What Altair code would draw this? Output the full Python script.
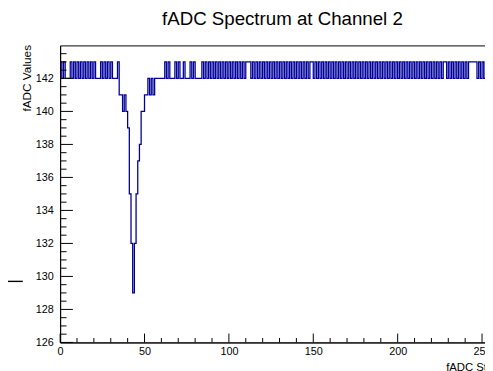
import altair as alt
import pandas as pd

# fADC value per step (bins 0..255)
adc_values = [
    143, 142, 143, 142, 142, 142, 143, 142, 143, 142, 143, 142, 143, 142, 143, 142,
    143, 142, 143, 142, 143, 142, 142, 142, 143, 142, 143, 142, 143, 142, 143, 142,
    142, 142, 143, 141, 141, 140, 141, 140, 139, 135, 132, 129, 132, 135, 137, 138,
    140, 140, 141, 141, 142, 141, 142, 141, 142, 142, 142, 142, 142, 142, 143, 142,
    143, 142, 142, 142, 143, 142, 143, 142, 142, 143, 142, 142, 142, 143, 142, 143,
    142, 142, 142, 142, 143, 142, 143, 142, 143, 142, 143, 142, 143, 142, 143, 142,
    143, 142, 143, 142, 143, 142, 143, 142, 143, 142, 143, 142, 143, 142, 143, 143,
    143, 142, 143, 142, 143, 142, 143, 142, 143, 142, 143, 142, 143, 142, 143, 142,
    143, 142, 143, 142, 143, 142, 143, 142, 143, 142, 143, 142, 143, 142, 143, 142,
    143, 142, 143, 142, 143, 143, 142, 143, 142, 143, 142, 143, 142, 143, 142, 143,
    142, 143, 142, 143, 142, 143, 142, 143, 142, 143, 142, 143, 142, 143, 142, 143,
    142, 143, 142, 143, 142, 143, 142, 143, 142, 143, 142, 143, 142, 143, 142, 143,
    142, 143, 142, 143, 142, 143, 142, 143, 142, 143, 142, 143, 142, 143, 142, 143,
    142, 143, 142, 143, 142, 143, 142, 143, 142, 143, 142, 143, 142, 143, 142, 143,
    142, 143, 142, 143, 143, 142, 143, 142, 143, 142, 143, 142, 143, 142, 143, 142,
    143, 142, 143, 143, 143, 143, 143, 142, 143, 142, 143, 142, 143, 142, 143, 142,
]

x_major = [0, 50, 100, 150, 200, 250]
x_minor = [10, 20, 30, 40, 60, 70, 80, 90, 110, 120, 130, 140, 160, 170, 180, 190,
           210, 220, 230, 240]
y_major = [126, 128, 130, 132, 134, 136, 138, 140, 142]
y_minor = [126.5, 127, 127.5, 128.5, 129, 129.5, 130.5, 131, 131.5, 132.5, 133, 133.5,
           134.5, 135, 135.5, 136.5, 137, 137.5, 138.5, 139, 139.5, 140.5, 141, 141.5,
           142.5, 143, 143.5]

# short black line segment seen at the far left (part of a neighbouring pad)
stub_start = [-31.0]
stub_end = [-22.1]
stub_level = [129.7]

steps = list(range(len(adc_values) + 1))
vals = adc_values + [adc_values[-1]]
df = pd.DataFrame({"step": steps, "value": vals})

W, H = 432, 302
FONT = "Liberation Sans"
xscale = alt.Scale(domain=[0, 251.75], nice=False, zero=False)
yscale = alt.Scale(domain=[126, 144], nice=False, zero=False)

x_axis = alt.Axis(
    values=x_major, ticks=False, tickSize=0, labelPadding=3, labelFlush=False,
    labelFontSize=11, labelFont=FONT, labelColor="black", grid=False,
    domainColor="black", domainWidth=1,
    title="fADC Steps", titleFont=FONT, titleFontSize=11.5, titleFontWeight="normal",
    titleColor="black", titleAlign="right", titleAnchor="end", titleX=452, titleY=28.5,
    titleBaseline="alphabetic")
y_axis = alt.Axis(
    values=y_major, ticks=False, tickSize=0, labelPadding=7,
    labelFontSize=11, labelFont=FONT, labelColor="black", grid=False,
    domainColor="black", domainWidth=1,
    title="fADC Values", titleFont=FONT, titleFontSize=12, titleFontWeight="normal",
    titleColor="black", titleAngle=270, titleAlign="right", titleAnchor="end",
    titleX=-30, titleY=-1, titleBaseline="alphabetic")

line = alt.Chart(df).mark_line(
    interpolate="step-after", color="#000099", strokeWidth=1.3
).encode(
    x=alt.X("step:Q", scale=xscale, axis=x_axis),
    y=alt.Y("value:Q", scale=yscale, axis=y_axis),
)

xmaj = alt.Chart(pd.DataFrame({"step": x_major})).mark_rule(color="black", strokeWidth=1).encode(
    x=alt.X("step:Q", scale=xscale, axis=x_axis), y=alt.value(H - 9), y2=alt.value(H))
xmin = alt.Chart(pd.DataFrame({"step": x_minor})).mark_rule(color="black", strokeWidth=1).encode(
    x=alt.X("step:Q", scale=xscale, axis=x_axis), y=alt.value(H - 4.5), y2=alt.value(H))
ymaj = alt.Chart(pd.DataFrame({"value": y_major})).mark_rule(color="black", strokeWidth=1).encode(
    y=alt.Y("value:Q", scale=yscale, axis=y_axis), x=alt.value(0), x2=alt.value(13))
ymin = alt.Chart(pd.DataFrame({"value": y_minor})).mark_rule(color="black", strokeWidth=1).encode(
    y=alt.Y("value:Q", scale=yscale, axis=y_axis), x=alt.value(0), x2=alt.value(6.5))
stub = alt.Chart(pd.DataFrame({"step": stub_start, "step_end": stub_end, "value": stub_level})
                 ).mark_rule(color="black", strokeWidth=1.4).encode(
    x=alt.X("step:Q", scale=xscale, axis=x_axis), x2="step_end:Q",
    y=alt.Y("value:Q", scale=yscale, axis=y_axis))

chart = alt.layer(line, xmaj, xmin, ymaj, ymin, stub).properties(
    width=W, height=H,
    title=alt.TitleParams("fADC Spectrum at Channel 2", font=FONT, fontSize=19,
                          fontWeight="normal", color="black", anchor="middle",
                          frame="group", dx=10, offset=16),
    autosize=alt.AutoSizeParams(type="none"),
    padding={"left": 53, "top": 35, "right": 0, "bottom": 26},
    background="white",
).configure_view(stroke="black", strokeWidth=1)

chart.save("out.html", embed_options={"renderer": "svg", "actions": False})
